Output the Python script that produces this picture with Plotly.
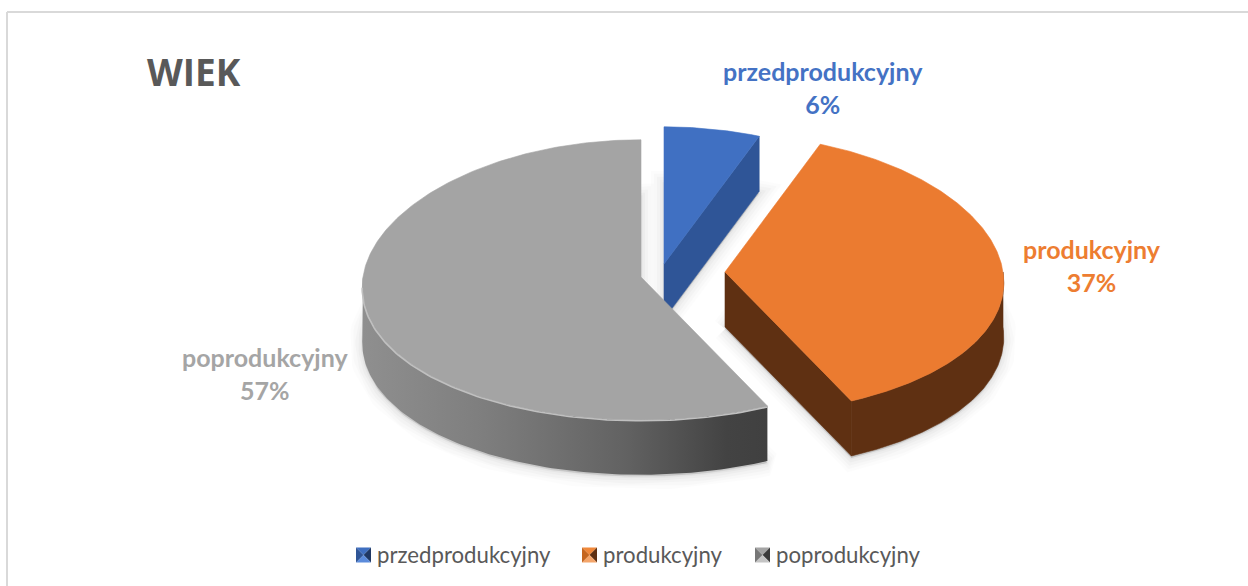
import numpy as np
import plotly.graph_objects as go

categories = ["przedprodukcyjny", "produkcyjny", "poprodukcyjny"]
values = [6, 37, 57]
title_text = "WIEK"

top_colors = ["#4070C2", "#EB7B30", "#A4A4A4"]
side_colors = ["#2F5597", "#5F3012", "#6E6E6E"]
label_colors = ["#4472C4", "#ED7D31", "#A5A5A5"]
legend_tones = [["#2F5597", "#3F6FC0", "#1F3864", "#5B8BDB"],
                ["#C5661F", "#F0883A", "#5F3012", "#F4A56A"],
                ["#777777", "#A4A4A4", "#3A3A3A", "#C4C4C4"]]

W, H = 1248, 586
RX, RY, DEPTH, K, KY = 278, 140, 55, 0.075, 0.02
apex = [(664, 264), (725, 272), (641, 277)]
label_pos = [(823, 87), (1092, 265), (265, 373)]
legend_x = [363.5, 589.5, 762.5]
legend_y = 555


def rim(ax, ay, t):
    r = np.radians(t)
    X, Y = np.sin(r), -np.cos(r)
    return ax + RX * X * (1 + K * Y), ay + RY * Y * (1 + KY * Y)


def poly(xs, ys, color=None, gradient=None, line=None):
    tr = dict(x=list(xs), y=list(ys), mode="lines", fill="toself",
              line=line or dict(width=0), hoverinfo="skip", showlegend=False)
    if gradient:
        tr["fillgradient"] = gradient
    else:
        tr["fillcolor"] = color
    return go.Scatter(**tr)


fig = go.Figure()
total = sum(values)
starts = np.cumsum([0] + values[:-1]) / total * 360
ends = np.cumsum(values) / total * 360

# soft shadows beneath every slice
for i in range(len(values)):
    ax, ay = apex[i]
    ts = np.linspace(starts[i], ends[i], 160)
    px, py = rim(ax, ay, ts)
    sx = np.r_[ax, px, ax]
    sy = np.r_[ay, py, ay] + DEPTH + 2
    for w, a in ((26, 0.012), (20, 0.014), (14, 0.018), (8, 0.025), (3, 0.03)):
        fig.add_trace(poly(sx, sy, "rgba(0,0,0,0.03)",
                           line=dict(width=w, color=f"rgba(0,0,0,{a})")))

for i in range(len(values)):
    ax, ay = apex[i]
    t0, t1 = starts[i], ends[i]
    # cut faces
    for t, sign in ((t1, 1), (t0, -1)):
        if sign * np.sin(np.radians(t)) > 1e-6:
            ex, ey = rim(ax, ay, t)
            fig.add_trace(poly([ax, ex, ex, ax, ax],
                               [ay, ey, ey + DEPTH, ay + DEPTH, ay],
                               side_colors[i],
                               line=dict(width=0.6, color=side_colors[i])))
    # outer rim
    a, b = max(t0, 90), min(t1, 270)
    if b > a:
        ts = np.linspace(a, b, 120)
        px, py = rim(ax, ay, ts)
        rx = np.r_[px, px[::-1], px[0]]
        ry = np.r_[py, py[::-1] + DEPTH, py[0]]
        if i == 2:
            grad = dict(type="horizontal",
                        colorscale=[[0, "#8F8F8F"], [0.3, "#7E7E7E"],
                                    [0.65, "#626262"], [0.9, "#434343"],
                                    [1, "#404040"]])
            fig.add_trace(poly(rx, ry, gradient=grad))
        else:
            fig.add_trace(poly(rx, ry, side_colors[i],
                               line=dict(width=0.6, color=side_colors[i])))
    # top face
    ts = np.linspace(t0, t1, 240)
    px, py = rim(ax, ay, ts)
    fig.add_trace(poly(np.r_[ax, px, ax], np.r_[ay, py, ay], top_colors[i],
                       line=dict(width=0.6, color=top_colors[i])))
    # bevel highlight along the front edge of the grey slice
    if b > a and i == 2:
        ts = np.linspace(a, b - 4, 120)
        px, py = rim(ax, ay, ts)
        fig.add_trace(go.Scatter(x=px, y=py + 1, mode="lines",
                                 line=dict(width=1.6, color="#C0C0C0"),
                                 hoverinfo="skip", showlegend=False))

# frame: left and top edges only
shapes = [dict(type="line", xref="x", yref="y", x0=7, x1=7, y0=12, y1=H,
               line=dict(color="#D9D9D9", width=2)),
          dict(type="line", xref="x", yref="y", x0=7, x1=W, y0=12, y1=12,
               line=dict(color="#D9D9D9", width=2))]
# legend swatches and names
s = 7.5
for i, (cx, tones) in enumerate(zip(legend_x, legend_tones)):
    cy = legend_y
    corners = [(-s, -s), (s, -s), (s, s), (-s, s)]
    order = [tones[1], tones[2], tones[3], tones[0]]
    for j in range(4):
        (x0, y0), (x1, y1) = corners[j], corners[(j + 1) % 4]
        shapes.append(dict(type="path", xref="x", yref="y", layer="above",
                           path=f"M {cx+x0},{cy+y0} L {cx+x1},{cy+y1} L {cx},{cy} Z",
                           fillcolor=order[j], line=dict(width=0)))
    fig.add_annotation(x=cx + s + 4, y=cy - 1, xanchor="left", yanchor="middle",
                       text=categories[i], showarrow=False,
                       font=dict(family="Lato", size=22.2, color="#595959"))
    lx, ly = label_pos[i]
    fig.add_annotation(x=lx, y=ly, xanchor="center", yanchor="middle", align="center",
                       text=f"<b>{categories[i]}<br>{values[i]}%</b>", showarrow=False,
                       font=dict(family="Lato", size=25, color=label_colors[i]))

fig.add_annotation(x=145, y=71, xanchor="left", yanchor="middle",
                   text=f"<b>{title_text}</b>", showarrow=False,
                   font=dict(family="Open Sans", size=37, color="#595959"))

fig.update_layout(width=W, height=H, margin=dict(l=0, r=0, t=0, b=0),
                  paper_bgcolor="white", plot_bgcolor="white", showlegend=False,
                  shapes=shapes,
                  xaxis=dict(range=[0, W], visible=False),
                  yaxis=dict(range=[H, 0], visible=False))
fig.write_html("out.html", config=dict(displayModeBar=False),
               post_script="document.body.style.margin='0';document.body.style.overflow='hidden';")
